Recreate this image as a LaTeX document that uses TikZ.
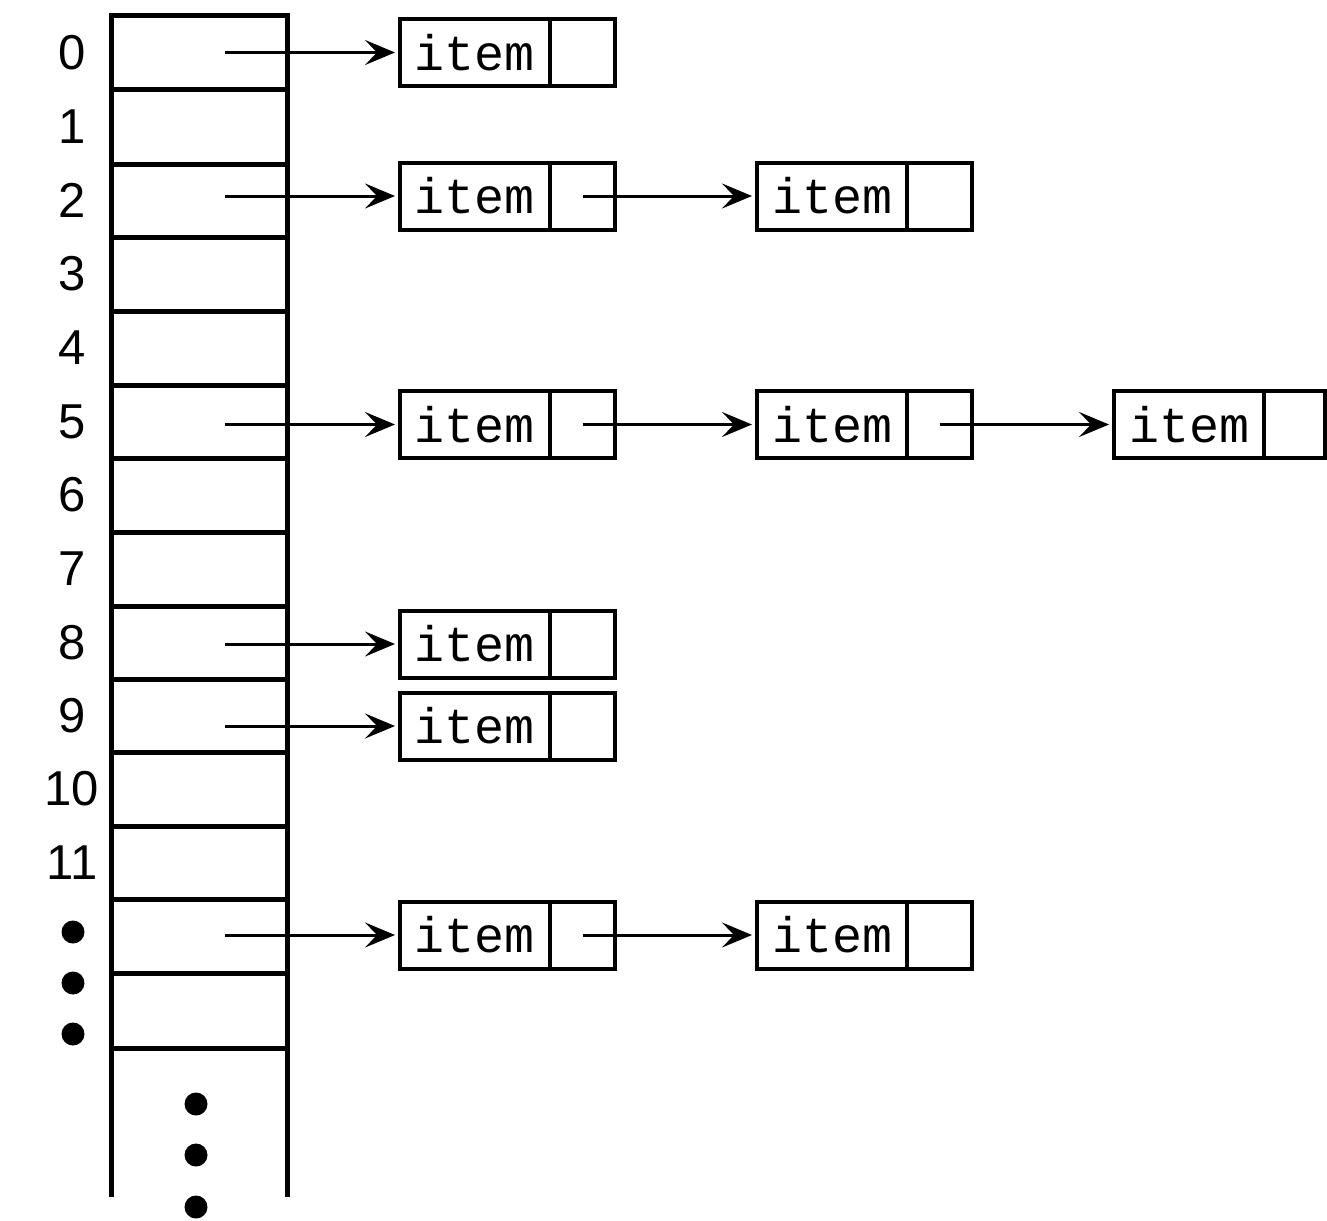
\documentclass[tikz,border=0pt]{standalone}
\usepackage{fontspec}
\setmainfont{Liberation Sans}
\newfontfamily\monof{Liberation Mono}
\usetikzlibrary{arrows.meta}
\begin{document}
\begin{tikzpicture}[x=1pt,y=-1pt,
  cell/.style={draw, line width=5pt, minimum width=176pt, inner sep=0pt, outer sep=0pt},
  lab/.style={font=\fontsize{49}{49}\selectfont, inner sep=0pt},
  dot/.style={circle, fill=black, minimum size=23pt, inner sep=0pt},
  itxt/.style={draw, line width=4pt, minimum width=150pt, minimum height=67pt, inner sep=0pt, outer sep=0pt, font=\monof\fontsize{50}{50}\selectfont},
  iptr/.style={draw, line width=4pt, minimum width=65pt, minimum height=67pt, inner sep=0pt, outer sep=0pt, anchor=west},
  arr/.style={line width=3pt, -{Stealth[length=30pt,width=25pt,inset=12pt]}, shorten >=5pt}]
\useasboundingbox (0,0) rectangle (1327,1220);
% table cells
\foreach \k/\t/\b in {0/16/90,1/90/164,2/164/237,3/237/311,4/311/385,5/385/458,6/458/532,7/532/606,8/606/679,9/679/752,10/752/826,11/826/899,12/899/973,13/973/1048}
  \node[cell, minimum height={\b-\t}] (c\k) at (199,{(\t+\b)/2}) {};
\coordinate (bl) at (111,1197);
\coordinate (br) at (287,1197);
\draw[line width=5pt] (c13.south west) -- (bl);
\draw[line width=5pt] (c13.south east) -- (br);
% labels
\foreach \k in {0,...,11}
  \path (c\k.center) ++(-127,0) node[lab] (n\k) {\k};
% dots
\node[dot] (d1) at (73,932) {};
\node[dot] (d2) at (73,983) {};
\node[dot] (d3) at (73,1034) {};
\node[dot] (d4) at (196,1104) {};
\node[dot] (d5) at (196,1155) {};
\node[dot] (d6) at (196,1207) {};
% start coordinate column
\coordinate (tx) at (225,0);
% items
\node[itxt] (a0) at (475,52.5) {item}; \node[iptr] (p0) at (a0.east) {};
\node[itxt] (a2) at (475,196) {item}; \node[iptr] (p2) at (a2.east) {};
\node[itxt] (b2) at (832,196) {item}; \node[iptr] (q2) at (b2.east) {};
\node[itxt] (a5) at (475,424.5) {item}; \node[iptr] (p5) at (a5.east) {};
\node[itxt] (b5) at (832,424.5) {item}; \node[iptr] (q5) at (b5.east) {};
\node[itxt] (e5) at (1189,424.5) {item}; \node[iptr, minimum width=61pt] (r5) at (e5.east) {};
\node[itxt] (a8) at (475,644) {item}; \node[iptr] (p8) at (a8.east) {};
\node[itxt] (a9) at (475,726) {item}; \node[iptr] (p9) at (a9.east) {};
\node[itxt] (a12) at (475,935) {item}; \node[iptr] (p12) at (a12.east) {};
\node[itxt] (b12) at (832,935) {item}; \node[iptr] (q12) at (b12.east) {};
% arrows from table
\foreach \n in {a0,a2,a5,a8,a9,a12}
  \draw[arr] (\n.west -| tx) -- (\n.west);
% chain arrows
\draw[arr] (p2.center) -- (b2.west);
\draw[arr] (p5.center) -- (b5.west);
\draw[arr] (q5.center) -- (e5.west);
\draw[arr] (p12.center) -- (b12.west);
\end{tikzpicture}
\end{document}
